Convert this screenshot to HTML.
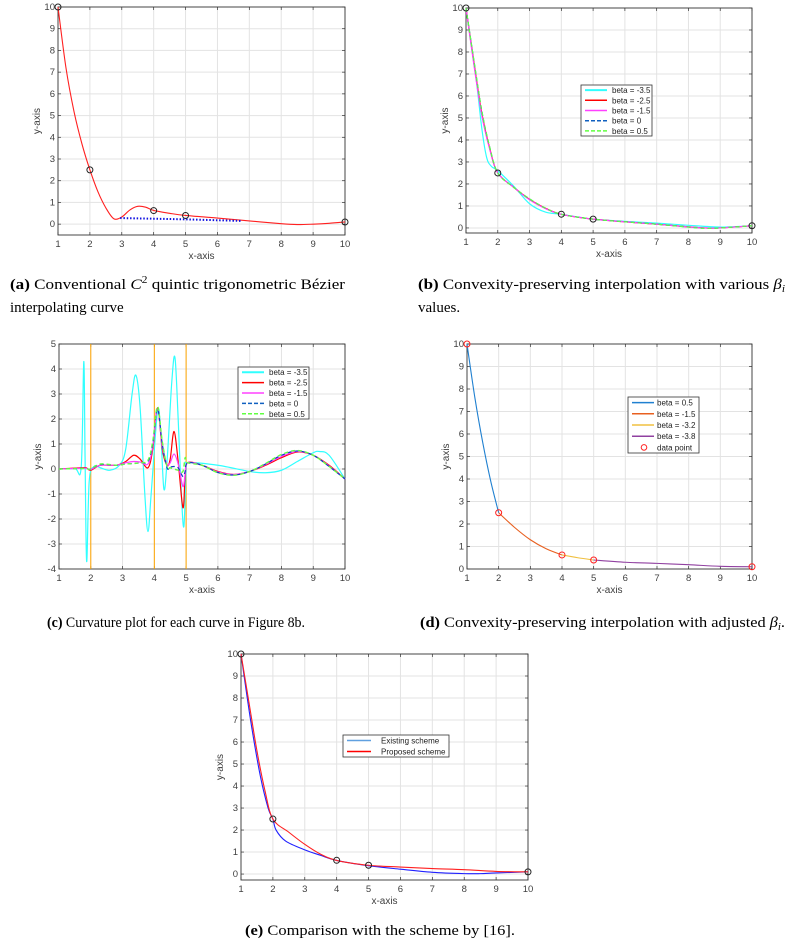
<!DOCTYPE html>
<html><head><meta charset="utf-8"><style>
html,body{margin:0;padding:0;background:#fff;}
svg{display:block;}
.tk{font-family:"Liberation Sans",sans-serif;font-size:9.5px;fill:#404040;}
.al{font-family:"Liberation Sans",sans-serif;font-size:10px;fill:#404040;}
.lg{font-family:"Liberation Sans",sans-serif;font-size:8px;fill:#222;}
.cap{font-family:"Liberation Serif",serif;font-size:15px;fill:#000;}
</style></head><body>
<svg id="fig" width="791" height="943" viewBox="0 0 791 943" xmlns="http://www.w3.org/2000/svg">
<text class="cap" x="10" y="289" textLength="335" lengthAdjust="spacingAndGlyphs"><tspan font-weight="bold">(a)</tspan> Conventional <tspan font-style="italic">C</tspan><tspan font-size="10" dy="-6">2</tspan><tspan dy="6"> quintic trigonometric Bézier</tspan></text>
<text class="cap" x="10" y="312">interpolating curve</text>
<text class="cap" x="418" y="289" textLength="367" lengthAdjust="spacingAndGlyphs"><tspan font-weight="bold">(b)</tspan> Convexity-preserving interpolation with various <tspan font-style="italic">β</tspan><tspan font-style="italic" font-size="10" dy="3">i</tspan></text>
<text class="cap" x="418" y="312">values.</text>
<text class="cap" x="47" y="627" textLength="258" lengthAdjust="spacingAndGlyphs"><tspan font-weight="bold">(c)</tspan> Curvature plot for each curve in Figure 8b.</text>
<text class="cap" x="420" y="627" textLength="365" lengthAdjust="spacingAndGlyphs"><tspan font-weight="bold">(d)</tspan> Convexity-preserving interpolation with adjusted <tspan font-style="italic">β</tspan><tspan font-style="italic" font-size="10" dy="3">i</tspan><tspan dy="-3">.</tspan></text>
<text class="cap" x="245" y="935" textLength="270" lengthAdjust="spacingAndGlyphs"><tspan font-weight="bold">(e)</tspan> Comparison with the scheme by [16].</text>
</svg>
<script>
// ---- data ----
const dataX = [1,2,4,5,10];
const dataY = [10,2.5,0.625,0.4,0.1];
// panel a
const aRedX = [1,1.25,1.5,1.75,2,2.25,2.5,2.75,3,3.25,3.5,3.75,4,4.5,5,6,7,8,8.5,9,9.5,10];
const aRedY = [10,7.2,5.2,3.7,2.5,1.5,0.75,0.25,0.33,0.65,0.82,0.78,0.63,0.5,0.4,0.28,0.15,0.02,-0.02,0,0.04,0.1];
const aBlueX = [2.95,4,5,6,6.75];
const aBlueY = [0.28,0.25,0.22,0.18,0.15];
// panel b
const bCyanX = [1,1.3,1.5,1.65,1.8,2,2.5,3,3.5,4,5,6,7,8,9,10];
const bCyanY = [10,7,4.5,3.2,2.8,2.6,1.9,1.1,0.72,0.62,0.4,0.3,0.22,0.12,0.04,0.1];
const bRedX = [1,1.25,1.5,1.75,2,2.5,3,3.5,4,5,6,7,8,8.5,9,10];
const bRedY = [10,7.5,5.2,3.6,2.5,1.85,1.3,0.9,0.62,0.4,0.28,0.17,0.05,0,0,0.1];
const bMagY = [10,7.4,5.1,3.55,2.5,1.85,1.28,0.88,0.62,0.4,0.28,0.17,0.05,0,0,0.1];
const bGreenX = [1,1.25,1.5,1.75,2,2.5,3,3.5,4,5,6,7,8,8.5,9,10];
const bGreenY = [10,7.6,5.3,3.65,2.5,1.85,1.32,0.9,0.62,0.4,0.28,0.17,0.04,-0.02,0,0.1];
// panel c
const cCyanX = [1,1.5,1.7,1.78,1.82,1.87,1.95,2.1,2.3,2.6,2.9,3.1,3.3,3.42,3.55,3.7,3.8,3.9,4.1,4.2,4.3,4.4,4.55,4.65,4.75,4.85,4.93,5,5.05,6,7,7.5,8,8.5,9,9.2,9.5,10];
const cCyanY = [0,0.02,0.1,4.3,0.5,-3.7,-0.5,0.1,0.05,-0.05,0.15,0.8,3,3.75,2.5,-1,-2.5,-1,2.3,1.5,-0.8,0.3,3.5,4.45,2,-1,-2.3,0,0.25,0.15,-0.1,-0.15,-0.05,0.3,0.65,0.7,0.55,-0.4];
const cRedX = [1,1.7,1.85,2,2.3,2.8,3.1,3.35,3.55,3.8,3.95,4.1,4.25,4.4,4.5,4.62,4.75,4.9,4.97,5.05,5.5,6,6.5,7,7.5,8,8.5,9,9.5,10];
const cRedY = [0,0.05,0.05,-0.05,0.15,0.15,0.3,0.55,0.4,0.05,0.8,2.45,0.8,0.15,0.4,1.5,0.3,-1.55,-0.3,0.25,0.15,-0.1,-0.22,-0.1,0.15,0.45,0.68,0.55,0.15,-0.4];
const cMagY = [0,0.03,0.03,-0.02,0.15,0.15,0.25,0.3,0.28,0.2,0.9,2.4,0.9,0.2,0.25,0.6,0.2,-0.7,-0.2,0.25,0.15,-0.12,-0.22,-0.1,0.18,0.5,0.7,0.55,0.12,-0.4];
const cBlueY = [0,0.02,0.02,0,0.18,0.15,0.2,0.22,0.25,0.3,1,2.4,1,0.05,0.08,0.1,0.05,-0.3,-0.1,0.25,0.15,-0.14,-0.24,-0.1,0.2,0.55,0.72,0.55,0.1,-0.4];
const cGreenY = [0,0.02,0.02,0,0.2,0.15,0.2,0.22,0.25,0.35,1.1,2.5,1.1,0.1,0.05,0,-0.05,-0.1,0.45,0.25,0.15,-0.15,-0.25,-0.1,0.22,0.58,0.74,0.55,0.1,-0.4];
const cVLines = [2,4,5];
// panel d
const dBlueX=[1,1.25,1.5,1.75,2], dBlueY=[10,7.6,5.6,3.9,2.5];
const dOrX=[2,2.5,3,3.5,4], dOrY=[2.5,1.85,1.3,0.9,0.625];
const dYeX=[4,4.5,5], dYeY=[0.625,0.5,0.4];
const dPuX=[5,6,7,8,9,10], dPuY=[0.4,0.3,0.25,0.19,0.12,0.1];
// panel e
const eBlueX=[1,1.3,1.6,1.85,2,2.1,2.4,3,3.5,4,5,6,7,8,8.5,9,10];
const eBlueY=[10,7,4.5,3.0,2.5,2.0,1.5,1.1,0.85,0.62,0.38,0.22,0.08,0.02,0.02,0.05,0.1];
const eRedX=[1,1.25,1.5,1.75,2,2.5,3,3.5,4,5,6,7,8,9,10];
const eRedY=[10,7.8,5.6,3.8,2.5,1.9,1.35,0.9,0.62,0.4,0.32,0.25,0.2,0.12,0.1];

const NS="http://www.w3.org/2000/svg";
const fig=document.getElementById('fig');
function mk(tag,attrs,parent){const e=document.createElementNS(NS,tag);for(const k in attrs)e.setAttribute(k,attrs[k]);(parent||fig).appendChild(e);return e;}
function path(xs,ys,sx,sy){
  const P=xs.map((x,i)=>[sx(x),sy(ys[i])]);
  let d='M'+P[0][0].toFixed(2)+','+P[0][1].toFixed(2);
  for(let i=0;i<P.length-1;i++){
    const p0=P[Math.max(0,i-1)],p1=P[i],p2=P[i+1],p3=P[Math.min(P.length-1,i+2)];
    const c1=[p1[0]+(p2[0]-p0[0])/6,p1[1]+(p2[1]-p0[1])/6];
    const c2=[p2[0]-(p3[0]-p1[0])/6,p2[1]-(p3[1]-p1[1])/6];
    d+='C'+c1.map(v=>v.toFixed(2)).join(',')+' '+c2.map(v=>v.toFixed(2)).join(',')+' '+p2[0].toFixed(2)+','+p2[1].toFixed(2);
  }
  return d;
}
function panel(id,L,R,T,B,ymin,ymax,yticks){
  const g=mk('g',{});
  
  
  const sx=x=>L+(x-1)/9*(R-L);
  const syf=y=>B-(y-ymin)/(ymax-ymin)*(B-T);
  for(let x=1;x<=10;x++){
    mk('line',{x1:sx(x),x2:sx(x),y1:T,y2:B,stroke:'#e3e3e3','stroke-width':1},g);
  }
  yticks.forEach(y=>mk('line',{x1:L,x2:R,y1:syf(y),y2:syf(y),stroke:'#e3e3e3','stroke-width':1},g));
  mk('rect',{x:L,y:T,width:R-L,height:B-T,fill:'none',stroke:'#333','stroke-width':0.9},g);
  for(let x=1;x<=10;x++){
    mk('line',{x1:sx(x),x2:sx(x),y1:B,y2:B-3,stroke:'#333','stroke-width':0.7},g);
    mk('line',{x1:sx(x),x2:sx(x),y1:T,y2:T+3,stroke:'#333','stroke-width':0.7},g);
    const t=mk('text',{x:sx(x),y:B+12,'text-anchor':'middle',class:'tk'},g);t.textContent=x;
    
    
  }
  yticks.forEach(y=>{
    mk('line',{x1:L,x2:L+3,y1:syf(y),y2:syf(y),stroke:'#333','stroke-width':0.7},g);
    mk('line',{x1:R,x2:R-3,y1:syf(y),y2:syf(y),stroke:'#333','stroke-width':0.7},g);
    const t=mk('text',{x:L-3,y:syf(y)+3,'text-anchor':'end',class:'tk'},g);t.textContent=y;
    
    
  });
  const xl=mk('text',{x:(L+R)/2,y:B+24,'text-anchor':'middle',class:'al'},g);xl.textContent='x-axis';
  
  
  const yl=mk('text',{x:0,y:0,'text-anchor':'middle',class:'al',transform:`translate(${L-18},${(T+B)/2}) rotate(-90)`},g);yl.textContent='y-axis';
  
  
  return {g,sx,sy:syf};
}
function line(p,xs,ys,color,w,dash,name){
  const e=mk('path',{d:path(xs,ys,p.sx,p.sy),fill:'none',stroke:color,'stroke-width':w,'stroke-dasharray':dash||'none'},p.g);
  
  
}
function markers(p,color,name){
  dataX.forEach((x,i)=>{
    const c=mk('circle',{cx:p.sx(x),cy:p.sy(dataY[i]),r:3,fill:'none',stroke:color,'stroke-width':1},p.g);
    
    
  });
}
function legend(p,x,y,w,h,entries,name,fs){
  const g=mk('g',{},p.g);
  
  
  mk('rect',{x,y,width:w,height:h,fill:'#fff',stroke:'#333','stroke-width':0.8},g);
  const step=h/entries.length;
  entries.forEach((e,i)=>{
    const cy=y+step*(i+0.5);
    if(e.marker){mk('circle',{cx:x+16,cy,r:2.8,fill:'none',stroke:e.c,'stroke-width':1},g);}
    else mk('line',{x1:x+4,x2:x+e.lw,y1:cy,y2:cy,stroke:e.c,'stroke-width':e.w||1.5,'stroke-dasharray':e.dash||'none'},g);
    const t=mk('text',{x:x+e.tx,y:cy+3,class:'lg','font-size':fs||8},g);t.textContent=e.t;
    
    
  });
}
const Y10=[0,1,2,3,4,5,6,7,8,9,10];
// (a)
const pa=panel('panel-a-plot',58,345,7,235,-0.5,10,Y10);
line(pa,aRedX,aRedY,'#ff2020',1.1,null,'red-curve');
line(pa,aBlueX,aBlueY,'#1010e0',2,'1.5,1.8','blue-dotted-line');
markers(pa,'#222','data-point');
// (b)
const pb=panel('panel-b-plot',466,752,8,233,-0.23,10,Y10);
line(pb,bCyanX,bCyanY,'#30ffff',1.2,null,'beta-minus-3.5');
line(pb,bRedX,bRedY,'#ff0000',1.2,null,'beta-minus-2.5');
line(pb,bRedX,bMagY,'#ff40ff',1.2,null,'beta-minus-1.5');
line(pb,bGreenX,bGreenY,'#1060c0',1.2,'4,3','beta-0');
line(pb,bGreenX,bGreenY,'#60ff40',1.2,'4,3','beta-0.5');
markers(pb,'#222','data-point');
const lb=[{t:'beta = -3.5',c:'#30ffff',w:2},{t:'beta = -2.5',c:'#ff0000'},{t:'beta = -1.5',c:'#ff40ff'},{t:'beta = 0',c:'#1060c0',dash:'4,2'},{t:'beta = 0.5',c:'#60ff40',dash:'4,2'}].map(e=>Object.assign(e,{lw:26,tx:31}));
legend(pb,581,85,71,51,lb,'legend-b',7.5);
// (c)
const pc=panel('panel-c-plot',59,345,344,569,-4,5,[-4,-3,-2,-1,0,1,2,3,4,5]);
cVLines.forEach(v=>{const l=mk('line',{x1:pc.sx(v),x2:pc.sx(v),y1:344,y2:569,stroke:'#ffa500','stroke-width':1},pc.g);
  
  });
line(pc,cCyanX,cCyanY,'#30ffff',1.2,null,'curvature-beta-minus-3.5');
line(pc,cRedX,cRedY,'#ff0000',1.2,null,'curvature-beta-minus-2.5');
line(pc,cRedX,cMagY,'#ff40ff',1.2,null,'curvature-beta-minus-1.5');
line(pc,cRedX,cBlueY,'#1040c0',1.2,'4,3','curvature-beta-0');
line(pc,cRedX,cGreenY,'#60ff40',1.4,'4,3','curvature-beta-0.5');
legend(pc,238,367,71,52,lb,'legend-c',7.5);
// (d)
const pd=panel('panel-d-plot',467,752,344,569,0,10,Y10);
line(pd,dBlueX,dBlueY,'#2080d0',1.1,null,'beta-0.5-segment');
line(pd,dOrX,dOrY,'#e86020',1.1,null,'beta-minus-1.5-segment');
line(pd,dYeX,dYeY,'#f0c040',1.1,null,'beta-minus-3.2-segment');
line(pd,dPuX,dPuY,'#9040a0',1.1,null,'beta-minus-3.8-segment');
markers(pd,'#ff2020','data-point');
legend(pd,628,397,71,56,[{t:'beta = 0.5',c:'#2080d0'},{t:'beta = -1.5',c:'#e86020'},{t:'beta = -3.2',c:'#f0c040'},{t:'beta = -3.8',c:'#9040a0'},{t:'data point',c:'#ff2020',marker:true}].map(e=>Object.assign(e,{lw:26,tx:29})),'legend-d',7.5);
// (e)
const pe=panel('panel-e-plot',241,528,654,880,-0.27,10,Y10);
line(pe,eBlueX,eBlueY,'#2020ff',1.1,null,'existing-scheme');
line(pe,eRedX,eRedY,'#ff2020',1.1,null,'proposed-scheme');
markers(pe,'#222','data-point');
legend(pe,343,735,106,22,[{t:'Existing scheme',c:'#60a0e0'},{t:'Proposed scheme',c:'#ff0000'}].map(e=>Object.assign(e,{lw:28,tx:38})),'legend-e',7.5);
</script>
</body></html>
